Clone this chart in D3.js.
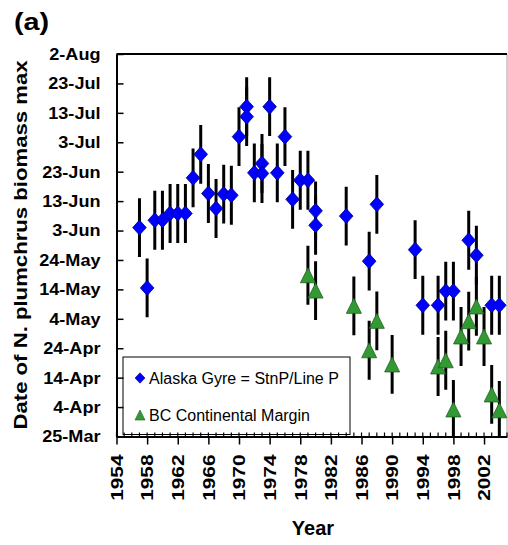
<!DOCTYPE html>
<html><head><meta charset="utf-8">
<script src="https://cdn.jsdelivr.net/npm/d3@7"></script>
<style>
html,body{margin:0;padding:0;background:#fff;}
svg{display:block;font-family:"Liberation Sans",Arial,Helvetica,sans-serif;}
</style></head><body>
<svg id="chart" width="508" height="545"></svg>
<script>
// Alaska Gyre (Station P / Line P): year and day of year of the N. plumchrus biomass maximum
const gyreYears = [1957,1958,1959,1960,1961,1962,1963,1964,1965,1966,1967,1968,1969,1970,1971,1971,
                   1972,1973,1973,1974,1975,1976,1977,1978,1979,1980,1980,1984,1987,1988,1993,1994,
                   1996,1997,1998,2000,2001,2003,2004];
const gyreDays  = [155,134.5,157.5,157.5,159.8,159.8,159.8,171.9,179.9,166.6,161.5,166.4,166,185.9,196.1,192.7,
                   173.6,176.8,173.4,196.1,173.6,185.9,164.6,171.1,171.1,160.7,155.8,158.9,143.6,162.9,147.5,128.6,
                   128.6,133.4,133.4,150.7,145.6,128.6,128.6];

// BC Continental Margin
const marginYears = [1979,1980,1985,1987,1988,1990,1996,1997,1998,1999,2000,2001,2002,2003,2004];
const marginDays  = [138.8,133.6,128.4,113.3,123.3,108.5,107.8,109.9,93.2,118,123.2,128.2,118,98.3,92.9];

// error bar half-width, days
const errDays = 10;

// y axis: day of year (non-leap) with its date labels
const dayTicks = [84,94,104,114,124,134,144,154,164,174,184,194,204,214];
const dayTickLabels = ["25-Mar","4-Apr","14-Apr","24-Apr","4-May","14-May","24-May",
                       "3-Jun","13-Jun","23-Jun","3-Jul","13-Jul","23-Jul","2-Aug"];
const yearTicks = [1954,1958,1962,1966,1970,1974,1978,1982,1986,1990,1994,1998,2002];
const seriesNames = ["Alaska Gyre = StnP/Line P","BC Continental Margin"];

const svg = d3.select("#chart");
const plotL = 116.5, plotR = 507, plotT = 54, plotB = 436.5;

const x = d3.scaleLinear().domain([1954, 2005]).range([plotL, plotR]);
const y = d3.scaleLinear().domain([84, 214]).range([plotB, plotT]);

// stretch a text element along its reading direction
function stretch(sel, k) {
  sel.each(function() {
    const n = this.getComputedTextLength();
    d3.select(this).attr("textLength", n * k).attr("lengthAdjust", "spacingAndGlyphs");
  });
}

svg.append("defs").append("clipPath").attr("id", "plotclip")
  .append("rect").attr("x", plotL).attr("y", plotT).attr("width", plotR - plotL).attr("height", plotB - plotT);

// plot frame
svg.append("line").attr("x1", plotR).attr("x2", plotR).attr("y1", plotT).attr("y2", plotB)
  .attr("stroke", "#a0a0a0").attr("stroke-width", 1);
svg.append("line").attr("x1", plotL).attr("x2", plotR).attr("y1", plotT).attr("y2", plotT)
  .attr("stroke", "#000").attr("stroke-width", 2);

// error bars
const bars = svg.append("g").attr("clip-path", "url(#plotclip)")
  .attr("stroke", "#000").attr("stroke-width", 3);
const gyre = gyreYears.map((yr, i) => ({yr, d: gyreDays[i]}));
const margin = marginYears.map((yr, i) => ({yr, d: marginDays[i]}));
bars.selectAll("line.g").data(gyre).join("line").attr("class", "g")
  .attr("x1", d => x(d.yr)).attr("x2", d => x(d.yr))
  .attr("y1", d => y(d.d + errDays)).attr("y2", d => y(d.d - errDays));
bars.selectAll("line.m").data(margin).join("line").attr("class", "m")
  .attr("x1", d => x(d.yr)).attr("x2", d => x(d.yr))
  .attr("y1", d => y(d.d + errDays)).attr("y2", d => y(d.d - errDays));

const diamond = (w, h) => `M0,${-h}L${w},0L0,${h}L${-w},0Z`;
const triangle = (w, h) => `M0,${-h}L${w},${h}L${-w},${h}Z`;

svg.append("g").selectAll("path").data(gyre).join("path")
  .attr("transform", d => `translate(${x(d.yr)},${y(d.d)})`)
  .attr("d", diamond(6.8, 7.5))
  .attr("fill", "#0000ff").attr("stroke", "#000080").attr("stroke-width", 0.8);

svg.append("g").selectAll("path").data(margin).join("path")
  .attr("transform", d => `translate(${x(d.yr)},${y(d.d)})`)
  .attr("d", triangle(7.5, 7.5))
  .attr("fill", "#339933").attr("stroke", "#1f5f1f").attr("stroke-width", 0.8);

// legend
const lg = svg.append("g");
lg.append("rect").attr("x", 123).attr("y", 357).attr("width", 227).attr("height", 77.5)
  .attr("fill", "#fff").attr("stroke", "#000").attr("stroke-width", 1);
lg.append("path").attr("transform", "translate(140,378)").attr("d", diamond(5, 5.2))
  .attr("fill", "#0000ff").attr("stroke", "#000080").attr("stroke-width", 0.6);
lg.append("path").attr("transform", "translate(140,415)").attr("d", triangle(5, 5))
  .attr("fill", "#339933").attr("stroke", "#1f5f1f").attr("stroke-width", 0.6);
lg.selectAll("text").data(seriesNames).join("text")
  .attr("x", 149).attr("y", (d, i) => i ? 421 : 383.5)
  .attr("font-size", 16).attr("fill", "#000").text(d => d);

// y axis
const yAxis = d3.axisLeft(y).tickValues(dayTicks).tickSizeInner(-7).tickSizeOuter(0)
  .tickFormat((d, i) => dayTickLabels[i]).tickPadding(16);
const ya = svg.append("g").attr("transform", `translate(${plotL},0)`).call(yAxis);
ya.select(".domain").attr("stroke", "#000").attr("stroke-width", 2);
ya.selectAll(".tick line").attr("stroke", "#000").attr("stroke-width", 1.5);
ya.selectAll(".tick text").attr("font-size", 16).attr("font-weight", "bold")
  .attr("font-family", "'Liberation Sans',Arial,sans-serif").attr("fill", "#000")
  .attr("dy", "0.34em")
  .call(stretch, 1.13);

// x axis: minor ticks each year inside, major ticks every 4 years outside
const xg = svg.append("g").attr("transform", `translate(0,${plotB})`);
xg.selectAll("line.minor").data(d3.range(1954, 2006)).join("line").attr("class", "minor")
  .attr("x1", d => x(d)).attr("x2", d => x(d)).attr("y1", 0).attr("y2", -4)
  .attr("stroke", "#000").attr("stroke-width", 1.2);
const xAxis = d3.axisBottom(x).tickValues(yearTicks).tickSizeInner(8).tickSizeOuter(0)
  .tickFormat(d3.format("d"));
xg.call(xAxis);
xg.select(".domain").attr("stroke", "#000").attr("stroke-width", 2);
xg.selectAll(".tick line").attr("stroke", "#000").attr("stroke-width", 1.5);
xg.selectAll(".tick text")
  .attr("font-size", 16).attr("font-weight", "bold").attr("fill", "#000")
  .attr("font-family", "'Liberation Sans',Arial,sans-serif")
  .attr("text-anchor", "end").attr("dy", "0.36em")
  .attr("transform", "translate(0,18) rotate(-90)").attr("x", 0).attr("y", 0)
  .call(stretch, 1.3);

// axis titles
svg.append("text").attr("transform", "translate(27,245) rotate(-90)")
  .attr("text-anchor", "middle").attr("font-size", 18).attr("font-weight", "bold")
  .text("Date of N. plumchrus biomass max").call(stretch, 1.23);
svg.append("text").attr("x", 313).attr("y", 535).attr("text-anchor", "middle")
  .attr("font-size", 20).attr("font-weight", "bold").text("Year");
svg.append("text").attr("x", 14).attr("y", 30)
  .attr("font-size", 24).attr("font-weight", "bold").text("(a)").call(stretch, 1.2);
</script>
</body></html>
